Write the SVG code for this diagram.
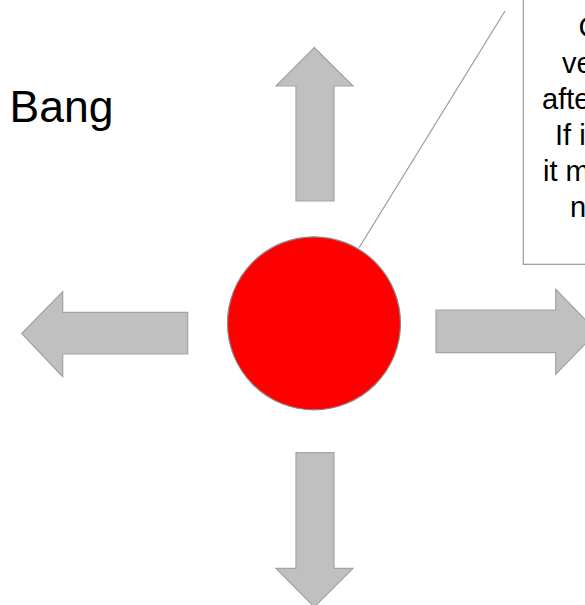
<svg xmlns="http://www.w3.org/2000/svg" width="585" height="605" viewBox="0 0 585 605">
<style>
.arrow{fill:#c0c0c0;stroke:#a3a3a3;stroke-width:1.2;stroke-linejoin:miter}
.txt{font-family:"Liberation Sans",Arial,sans-serif;fill:#000}
.note{font-size:29px}
</style>
<rect width="585" height="605" fill="#ffffff"/>
<g id="label-bang">
<text class="txt" x="9.5" y="122" font-size="44.5">Bang</text>
</g>
<g id="arrow-up">
<polygon class="arrow" points="314.3,47.5 353,86 334,86 334,201 296,201 296,86 276,86"/>
</g>
<g id="arrow-left">
<polygon class="arrow" points="21.7,333.5 62.7,291.7 62.7,312.3 187.7,312.3 187.7,354 62.7,354 62.7,376.7"/>
</g>
<g id="arrow-right">
<polygon class="arrow" points="436,310 555.7,310 555.7,289.3 597,331.8 555.7,374.3 555.7,352.7 436,352.7"/>
</g>
<g id="arrow-down">
<polygon class="arrow" points="296,452.7 334,452.7 334,568.3 353,568.3 314.3,607 276,568.3 296,568.3"/>
</g>
<g id="connectors">
<line x1="359" y1="247.7" x2="505" y2="11" stroke="#999999" stroke-width="1.2"/>
</g>
<g id="circle">
<circle cx="314" cy="323.3" r="86.5" fill="#ff0000" stroke="#8a8a8a" stroke-width="1.2"/>
</g>
<g id="note">
<rect x="523.3" y="-5" width="80" height="269.3" fill="#ffffff" stroke="#999999" stroke-width="1.2"/>
<text class="txt note" x="578.5" y="37">C</text>
<text class="txt note" x="562" y="73">ve</text>
<text class="txt note" x="542" y="109">afte</text>
<text class="txt note" x="555" y="145">If i</text>
<text class="txt note" x="543" y="181">it m</text>
<text class="txt note" x="570" y="216.5">n</text>
</g>
</svg>
